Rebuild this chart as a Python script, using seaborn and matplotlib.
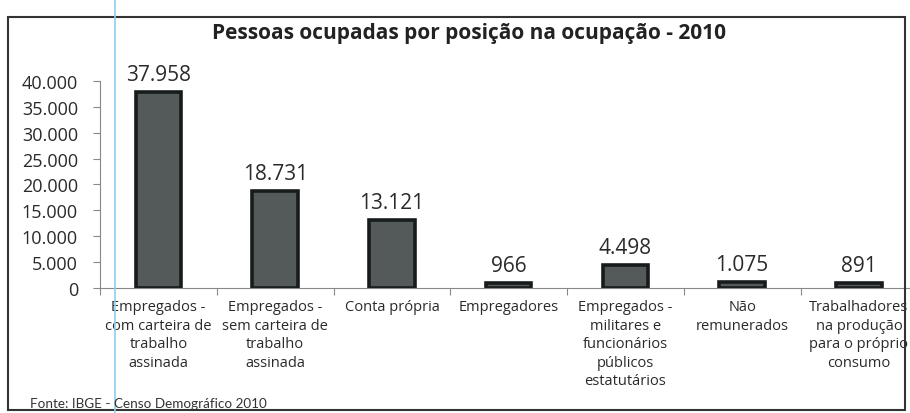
import matplotlib
matplotlib.use("Agg")
import matplotlib.pyplot as plt
import seaborn as sns
import pandas as pd
from matplotlib.ticker import FuncFormatter, FixedLocator
from matplotlib.patches import Rectangle
from matplotlib.lines import Line2D

categorias = [
    "Empregados -\ncom carteira de\ntrabalho\nassinada",
    "Empregados -\nsem carteira de\ntrabalho\nassinada",
    "Conta própria",
    "Empregadores",
    "Empregados -\nmilitares e\nfuncionários\npúblicos\nestatutários",
    "Não\nremunerados",
    "Trabalhadores\nna produção\npara o próprio\nconsumo",
]
valores = [37958, 18731, 13121, 966, 4498, 1075, 891]
titulo = "Pessoas ocupadas por posição na ocupação - 2010"
fonte = "Fonte: IBGE - Censo Demográfico 2010"

sns.set_theme(style="white")
plt.rcParams["font.family"] = ["Open Sans", "DejaVu Sans"]

def fmt(v):
    return f"{int(v):,}".replace(",", ".")

df = pd.DataFrame({"cat": categorias, "val": valores})

fig = plt.figure(figsize=(9.10, 4.14), dpi=100)
fig.patch.set_facecolor("white")
ax = fig.add_axes([0.110, 0.302, 0.898, 0.500])

sns.barplot(data=df, x="cat", y="val", ax=ax, color="#545a5a",
            width=0.39, edgecolor="#181b1b", linewidth=2.6, saturation=1)

ax.set_ylim(0, 40000)
ax.set_xlim(-0.5, 6.5)
ax.set_yticks(range(0, 40001, 5000))
ax.yaxis.set_major_formatter(FuncFormatter(lambda v, p: fmt(v)))
ax.tick_params(axis="y", labelsize=13, colors="#888888", length=5,
               width=0.8, direction="out", left=True, pad=11)
for t in ax.get_yticklabels():
    t.set_color("#2a2a2a")

ax.set_xticks(range(len(categorias)))
ax.set_xticklabels(categorias, fontsize=10.5, color="#2a2a2a", linespacing=1.32)
ax.tick_params(axis="x", length=0, pad=8)
ax.xaxis.set_minor_locator(FixedLocator([i - 0.5 for i in range(len(categorias) + 1)]))
ax.tick_params(axis="x", which="minor", length=5, width=0.8, color="#888888",
               direction="out", bottom=True)

ax.set_xlabel("")
ax.set_ylabel("")
for s in ["top", "right"]:
    ax.spines[s].set_visible(False)
for s in ["left", "bottom"]:
    ax.spines[s].set_color("#888888")
    ax.spines[s].set_linewidth(0.8)

for i, v in enumerate(valores):
    ax.annotate(fmt(v), (i, v), xytext=(0, 5), textcoords="offset points",
                ha="center", va="bottom", fontsize=15, color="#2a2a2a",
                annotation_clip=False)

fig.text(0.515, 0.918, titulo, ha="center", va="center", fontsize=15,
         fontweight="bold", color="#222222")
fig.text(0.033, 0.025, fonte, ha="left", va="center", fontsize=9.7,
         color="#333333", family=["Lato", "DejaVu Sans"])

fig.add_artist(Rectangle((0.009, 0.008), 0.986, 0.948, transform=fig.transFigure,
                         fill=False, edgecolor="#333333", linewidth=1.5))
fig.add_artist(Line2D([0.126, 0.126], [0.0, 1.0], transform=fig.transFigure,
                      color="#8fd0ea", linewidth=1.2))

fig.savefig("out.png", dpi=100)
